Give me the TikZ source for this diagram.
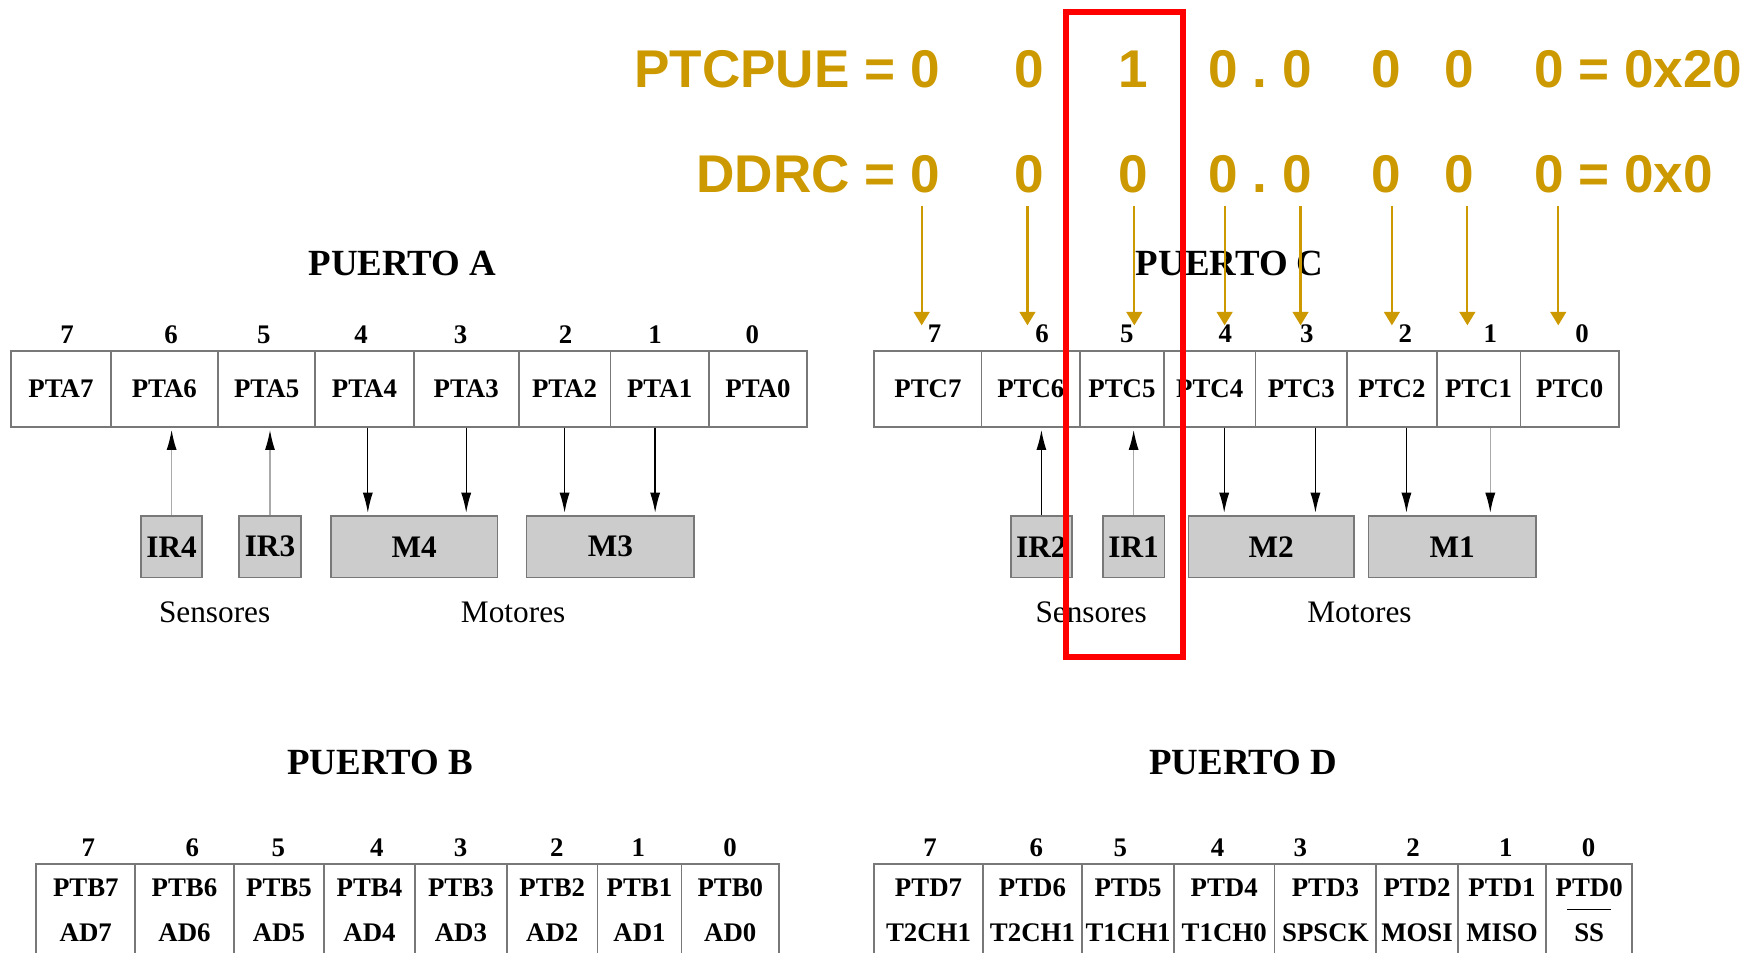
\documentclass[tikz,border=0pt]{standalone}
\usepackage{fontspec}
\setmainfont{Liberation Serif}
\newfontfamily\yfont{Liberation Sans}
\usetikzlibrary{arrows.meta,calc}
\definecolor{ygold}{RGB}{204,153,0}
\definecolor{boxgray}{RGB}{204,204,204}
\definecolor{linegray}{RGB}{120,120,120}
\definecolor{shaftgray}{RGB}{170,170,170}
\begin{document}
\begin{tikzpicture}[x=0.5pt,y=-0.5pt,
  cell/.style={draw=linegray, line width=0.8pt, inner sep=0pt, font=\fontsize{12}{12}\selectfont\bfseries},
  lbl/.style={anchor=base, inner sep=0pt, font=\fontsize{12}{12}\selectfont\bfseries},
  bitnum/.style={anchor=base, inner sep=0pt, font=\fontsize{12}{12}\selectfont\bfseries},
  ptitle/.style={anchor=base, inner sep=0pt, font=\fontsize{16.5}{16.5}\selectfont\bfseries},
  dev/.style={draw=linegray, fill=boxgray, line width=0.8pt, inner sep=0pt, font=\fontsize{14}{14}\selectfont\bfseries},
  capt/.style={anchor=base, inner sep=0pt, font=\fontsize{14}{14}\selectfont},
  ytext/.style={anchor=base, inner sep=0pt, text=ygold, font=\yfont\fontsize{23.75}{24}\selectfont\bfseries},
  sig/.style={-{Latex[length=9pt,width=4.5pt,color=black]}, line width=0.6pt, shorten >=1pt},
  yarr/.style={draw=ygold, line width=1pt, -{Triangle[length=6pt,width=7pt]}},
  hilite/.style={draw=red, line width=2.75pt, inner sep=0pt}
]
\useasboundingbox (0,0) rectangle (1568,852);
\clip (0,0) rectangle (1568,852);

% ---------- titles ----------
\node[ptitle] (tA) at (360,246) {PUERTO A};
\node[ptitle] (tC) at (1100,246) {PUERTO C};
\node[ptitle] (tB) at (340,693) {PUERTO B};
\node[ptitle] (tD) at (1112,693) {PUERTO D};

% ---------- bit numbers ----------
\foreach \i/\x in {7/60,6/153,5/236,4/323,3/412,2/506,1/586,0/673}
  \node[bitnum] (na\i) at (\x,307) {\i};
\foreach \i/\x in {7/836,6/932,5/1008,4/1096,3/1169,2/1257,1/1333,0/1415}
  \node[bitnum] (nc\i) at (\x,306) {\i};
\foreach \i/\x in {7/79,6/172,5/249,4/337,3/412,2/498,1/571,0/653}
  \node[bitnum] (nb\i) at (\x,766.5) {\i};
\foreach \i/\x in {7/832,6/927,5/1002,4/1089,3/1163,2/1264,1/1347,0/1421}
  \node[bitnum] (nd\i) at (\x,766.5) {\i};

% ---------- port A cells ----------
\foreach \i/\l/\r in {7/10/99,6/99/195,5/195/282,4/282/370,3/370/464,2/464/546,1/546/634,0/634/722}{
  \pgfmathsetmacro\w{(\r-\l)*0.5}
  \pgfmathsetmacro\c{(\l+\r)/2}
  \node[cell, minimum width=\w pt, minimum height=34pt] (a\i) at (\c,347.7) {PTA\i};
}
% ---------- port C cells ----------
\foreach \i/\l/\r in {7/782/878,6/878/966,5/966/1041,4/1041/1123,3/1123/1205,2/1205/1285,1/1285/1360,0/1360/1448}{
  \pgfmathsetmacro\w{(\r-\l)*0.5}
  \pgfmathsetmacro\c{(\l+\r)/2}
  \node[cell, minimum width=\w pt, minimum height=34pt] (c\i) at (\c,347.7) {PTC\i};
}
% ---------- port B cells ----------
\foreach \i/\l/\r in {7/32.5/121,6/121/209,5/209/290,4/290/371,3/371/453.5,2/453.5/534.5,1/534.5/609.5,0/609.5/697}{
  \pgfmathsetmacro\w{(\r-\l)*0.5}
  \pgfmathsetmacro\c{(\l+\r)/2}
  \node[cell, minimum width=\w pt, minimum height=50pt] (b\i) at (\c,823) {};
  \node[lbl] (bl\i) at (\c,801.5) {PTB\i};
  \node[lbl] (bs\i) at (\c,842) {AD\i};
}
% ---------- port D cells ----------
\foreach \i/\l/\r/\s in {7/782/879/T2CH1,6/879/968/T2CH1,5/968/1050/T1CH1,4/1050/1140/T1CH0,3/1140/1231/SPSCK,2/1231/1304/MOSI,1/1304/1383/MISO,0/1383/1460/SS}{
  \pgfmathsetmacro\w{(\r-\l)*0.5}
  \pgfmathsetmacro\c{(\l+\r)/2}
  \node[cell, minimum width=\w pt, minimum height=50pt] (d\i) at (\c,823) {};
  \node[lbl] (dl\i) at (\c,801.5) {PTD\i};
  \node[lbl] (ds\i) at (\c,842) {\s};
}
\draw[line width=0.6pt] ([shift={(-6,-12)}]ds0.north west) -- ([shift={(6,-12)}]ds0.north east);

% ---------- devices ----------
\node[dev, minimum width=27.5pt, minimum height=27.5pt] (ir4) at (153.5,489) {IR4};
\node[dev, minimum width=27.5pt, minimum height=27.5pt] (ir3) at (241.5,489) {IR3};
\node[dev, minimum width=74.5pt, minimum height=27.5pt] (m4) at (370.5,489) {M4};
\node[dev, minimum width=75pt, minimum height=27.5pt] (m3) at (546,489) {M3};
\node[dev, minimum width=27.5pt, minimum height=27.5pt] (ir2) at (931.5,489) {IR2};
\node[dev, minimum width=27.5pt, minimum height=27.5pt] (ir1) at (1014,489) {IR1};
\node[dev, minimum width=74pt, minimum height=27.5pt] (m2) at (1137,489) {M2};
\node[dev, minimum width=75pt, minimum height=27.5pt] (m1) at (1299,489) {M1};

\node[capt] (sensA) at (192,557) {Sensores};
\node[capt] (motA) at (459,557) {Motores};
\node[capt] (sensC) at (976,557) {Sensores};
\node[capt] (motC) at (1216,557) {Motores};

% ---------- port A arrows ----------
\draw[sig, draw=shaftgray] (ir4.north) -- (ir4.north |- a6.south);
\draw[sig, draw=shaftgray] (ir3.north) -- (ir3.north |- a5.south);
\coordinate (a4o) at ([xshift=1.5pt]a4.south);
\coordinate (a1o) at ([xshift=-2pt]a1.south);
\draw[sig] (a4o) -- (a4o |- m4.north);
\draw[sig] (a3.south) -- (a3.south |- m4.north);
\draw[sig] (a2.south) -- (a2.south |- m3.north);
\draw[sig] (a1o) -- (a1o |- m3.north);

% ---------- port C arrows ----------
\draw[sig] (ir2.north) -- (ir2.north |- c6.south);
\draw[sig, draw=shaftgray] (ir1.north) -- (ir1.north |- c5.south);
\coordinate (c4o) at ([xshift=6.5pt]c4.south);
\coordinate (c3o) at ([xshift=6.3pt]c3.south);
\coordinate (c2o) at ([xshift=6.5pt]c2.south);
\coordinate (c1o) at ([xshift=5.25pt]c1.south);
\draw[sig] (c4o) -- (c4o |- m2.north);
\draw[sig] (c3o) -- (c3o |- m2.north);
\draw[sig] (c2o) -- (c2o |- m1.north);
\draw[sig, draw=shaftgray] (c1o) -- (c1o |- m1.north);

% ---------- register values ----------
\node[ytext, anchor=base east] (pname) at (841,78.7) {PTCPUE = 0};
\node[ytext] (p6) at (921,78.7) {0};
\node[ytext] (p5) at (1014,78.7) {1};
\node[ytext] (p4) at (1094,78.7) {0};
\node[ytext] (pdot) at (1127,78.7) {.};
\node[ytext] (p3) at (1160,78.7) {0};
\node[ytext] (p2) at (1240,78.7) {0};
\node[ytext] (p1) at (1305,78.7) {0};
\node[ytext, anchor=base west] (pres) at (1372,78.7) {0 = 0x20};

\node[ytext, anchor=base east] (dname) at (841,172.6) {DDRC = 0};
\node[ytext] (q6) at (921,172.6) {0};
\node[ytext] (q5) at (1014,172.6) {0};
\node[ytext] (q4) at (1094,172.6) {0};
\node[ytext] (qdot) at (1127,172.6) {.};
\node[ytext] (q3) at (1160,172.6) {0};
\node[ytext] (q2) at (1240,172.6) {0};
\node[ytext] (q1) at (1305,172.6) {0};
\node[ytext, anchor=base west] (qres) at (1372,172.6) {0 = 0x0};

\foreach \i/\x in {7/824.4,6/919,5/1014.6,4/1095.4,3/1163.3,2/1245,1/1312.5,0/1393.8}{
  \coordinate (ys\i) at (\x,184);
  \coordinate (ye\i) at (\x,291);
  \draw[yarr] (ys\i) -- (ye\i);
}

% ---------- highlight ----------
\node[hilite, minimum width=52.5pt, minimum height=288.5pt] (hl) at (1006,299) {};
\end{tikzpicture}
\end{document}
